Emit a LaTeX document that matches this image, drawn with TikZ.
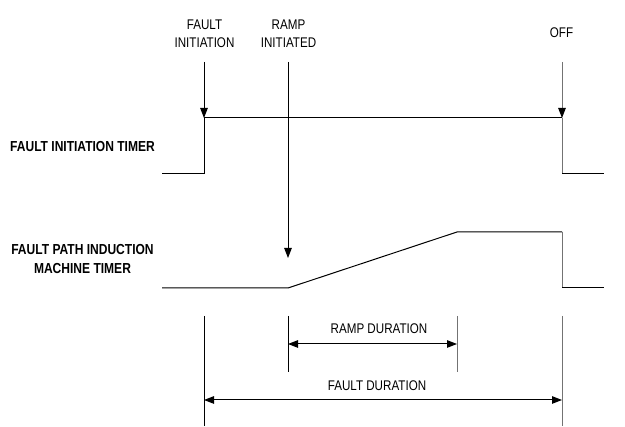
\documentclass[tikz,border=0pt]{standalone}
\usepackage{fontspec}
\setmainfont{Liberation Sans}[FakeStretch=0.83]
\usetikzlibrary{arrows.meta}
\begin{document}
\begin{tikzpicture}[x=1pt,y=-1pt,
  wave/.style={line width=1pt,black},
  gwave/.style={line width=1pt,black!55},
  marker/.style={line width=1pt,-{Triangle[length=10pt,width=7.5pt,color=black]}},
  dim/.style={line width=1pt,{Triangle[length=10pt,width=7.5pt]}-{Triangle[length=10pt,width=7.5pt]}},
  lbl/.style={inner sep=0pt,align=center,font=\fontsize{14}{18}\selectfont},
  blbl/.style={inner sep=0pt,align=center,font=\fontsize{14.5}{18.5}\selectfont\bfseries}]
\useasboundingbox (0,0) rectangle (625,427);
% labels
\node[lbl] (lfi) at (204.5,34) {FAULT\\INITIATION};
\node[lbl] (lri) at (288.5,34) {RAMP\\INITIATED};
\node[lbl] (loff) at (561.5,33) {OFF};
\node[blbl] (lt1) at (82.5,147) {FAULT INITIATION TIMER};
\node[blbl] (lt2) at (82.5,259) {FAULT PATH INDUCTION\\MACHINE TIMER};
\node[lbl] (lrd) at (379,329) {RAMP DURATION};
\node[lbl] (lfd) at (377,386) {FAULT DURATION};
% coordinates
\coordinate (fiTop) at (204,62);
\coordinate (riTop) at (288,62);
\coordinate (offTop) at (562,62);
\coordinate (a0) at (162,174);
\coordinate (a1) at (204,174);
\coordinate (a2) at (204,118);
\coordinate (a3) at (562,118);
\coordinate (a4) at (562,174);
\coordinate (a5) at (604,174);
\coordinate (riEnd) at (288,258);
\coordinate (b0) at (162,288);
\coordinate (b1) at (288,288);
\coordinate (b2) at (457,232);
\coordinate (b3) at (562,232);
\coordinate (b4) at (562,288);
\coordinate (b5) at (604,288);
\coordinate (t1a) at (204,316); \coordinate (t1b) at (204,426);
\coordinate (t2a) at (288,316); \coordinate (t2b) at (288,372);
\coordinate (t3a) at (457,316); \coordinate (t3b) at (457,372);
\coordinate (t4a) at (562,316); \coordinate (t4b) at (562,426);
\coordinate (rdL) at (288,344); \coordinate (rdR) at (457,344);
\coordinate (fdL) at (204,400); \coordinate (fdR) at (562,400);
% top waveform
\draw[wave] (a0) -- (a1) -- (a2) -- (a3);
\draw[gwave] (a3) -- (a4);
\draw[wave] (a4) -- (a5);
% bottom waveform
\draw[wave] (b0) -- (b1) -- (b2) -- (b3);
\draw[gwave] (b3) -- (b4);
\draw[wave] (b4) -- (b5);
% markers
\draw[marker] (fiTop) -- (a2);
\draw[marker] (riTop) -- (riEnd);
\draw[marker,draw=black!55] (offTop) -- (a3);
% ticks
\draw[wave] (t1a) -- (t1b);
\draw[wave] (t2a) -- (t2b);
\draw[gwave] (t3a) -- (t3b);
\draw[gwave] (t4a) -- (t4b);
% dimension arrows
\draw[dim] (rdL) -- (rdR);
\draw[dim] (fdL) -- (fdR);
\end{tikzpicture}
\end{document}
